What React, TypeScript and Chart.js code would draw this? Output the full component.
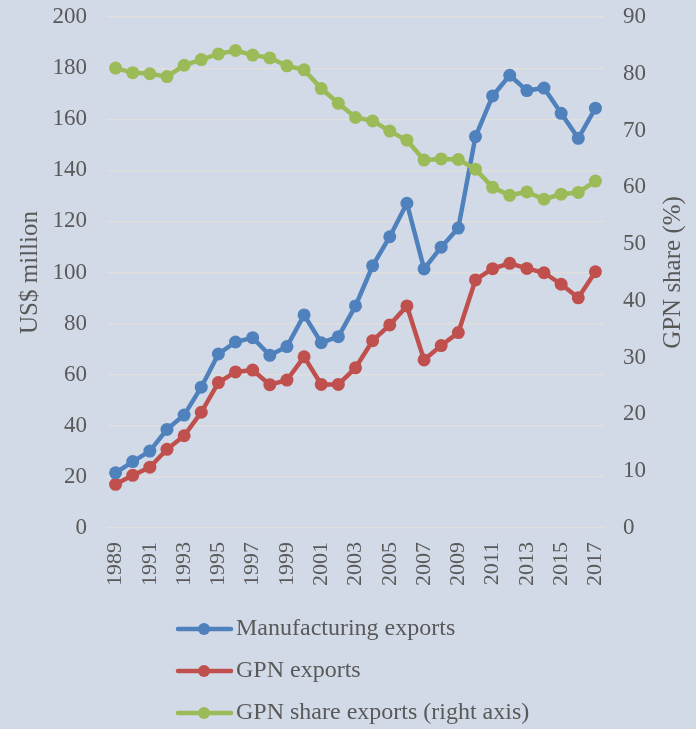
import React, { useEffect, useRef } from "react";
import { Chart, registerables } from "chart.js";

Chart.register(...registerables);

const years = [
  "1989","1990","1991","1992","1993","1994","1995","1996","1997","1998",
  "1999","2000","2001","2002","2003","2004","2005","2006","2007","2008",
  "2009","2010","2011","2012","2013","2014","2015","2016","2017",
];
const manufacturingExports = [
  21.6, 26.0, 30.1, 38.6, 44.2, 55.1, 68.1, 72.8, 74.5, 67.6,
  71.0, 83.4, 72.5, 74.9, 86.9, 102.6, 114.0, 127.1, 101.4, 109.9,
  117.4, 153.2, 169.1, 177.2, 171.2, 172.2, 162.3, 152.5, 164.3,
];
const gpnExports = [
  17.1, 20.6, 23.8, 30.8, 36.1, 45.3, 56.9, 61.1, 61.8, 56.1,
  57.9, 67.0, 56.2, 56.2, 62.7, 73.3, 79.5, 86.9, 65.8, 71.4,
  76.5, 97.1, 101.5, 103.6, 101.6, 99.9, 95.4, 90.1, 100.3,
];
const gpnShare = [
  81.0, 80.2, 80.0, 79.5, 81.5, 82.5, 83.5, 84.1, 83.3, 82.8,
  81.4, 80.7, 77.4, 74.8, 72.3, 71.7, 69.9, 68.3, 64.8, 65.0,
  64.9, 63.2, 60.0, 58.6, 59.2, 57.9, 58.8, 59.1, 61.1,
];
const seriesNames = [
  "Manufacturing exports",
  "GPN exports",
  "GPN share exports (right axis)",
];
const leftTitle = "US$ million";
const rightTitle = "GPN share (%)";

const BLUE = "#4F81BD";
const RED = "#C0504D";
const GREEN = "#9BBB59";
const BG = "#D3DAE7";
const GRID = "#E1E0DA";
const TEXT = "#595959";
const FONT = "'Liberation Serif', 'Times New Roman', serif";

export default function App() {
  const ref = useRef<HTMLCanvasElement | null>(null);

  useEffect(() => {
    document.body.style.margin = "0";
    const canvas = ref.current;
    if (!canvas) return;

    const bgPlugin = {
      id: "bg",
      beforeDraw(chart: any) {
        const { ctx, width, height } = chart;
        ctx.save();
        ctx.fillStyle = BG;
        ctx.fillRect(0, 0, width, height);
        ctx.restore();
      },
    };

    const extrasPlugin = {
      id: "extras",
      afterDraw(chart: any) {
        const { ctx, chartArea } = chart;
        ctx.save();
        // right axis title, reading bottom to top
        ctx.translate(673, (chartArea.top + chartArea.bottom) / 2);
        ctx.rotate(-Math.PI / 2);
        ctx.fillStyle = TEXT;
        ctx.font = `25px ${FONT}`;
        ctx.textAlign = "center";
        ctx.textBaseline = "middle";
        ctx.fillText(rightTitle, 0, 0);
        ctx.restore();

        // legend, vertical list
        const colors = [BLUE, RED, GREEN];
        const rows = [629, 671, 713];
        ctx.save();
        for (let i = 0; i < 3; i++) {
          const y = rows[i];
          ctx.strokeStyle = colors[i];
          ctx.lineWidth = 4.5;
          ctx.lineCap = "round";
          ctx.beginPath();
          ctx.moveTo(178, y);
          ctx.lineTo(231, y);
          ctx.stroke();
          ctx.fillStyle = colors[i];
          ctx.beginPath();
          ctx.arc(204, y, 6, 0, Math.PI * 2);
          ctx.fill();
          ctx.fillStyle = TEXT;
          ctx.font = `24px ${FONT}`;
          ctx.textAlign = "left";
          ctx.textBaseline = "middle";
          ctx.fillText(seriesNames[i], 236, y);
        }
        ctx.restore();
      },
    };

    const common = {
      borderWidth: 4.5,
      pointRadius: 6.5,
      pointHoverRadius: 6.5,
      pointBorderWidth: 0,
      tension: 0,
      fill: false,
    };

    const chart = new Chart(canvas, {
      type: "line",
      data: {
        labels: years,
        datasets: [
          {
            ...common,
            label: seriesNames[0],
            data: manufacturingExports,
            borderColor: BLUE,
            backgroundColor: BLUE,
            pointBackgroundColor: BLUE,
            yAxisID: "y",
            order: 1,
          },
          {
            ...common,
            label: seriesNames[1],
            data: gpnExports,
            borderColor: RED,
            backgroundColor: RED,
            pointBackgroundColor: RED,
            yAxisID: "y",
            order: 2,
          },
          {
            ...common,
            label: seriesNames[2],
            data: gpnShare,
            borderColor: GREEN,
            backgroundColor: GREEN,
            pointBackgroundColor: GREEN,
            yAxisID: "y1",
            order: 0,
          },
        ],
      },
      options: {
        responsive: false,
        animation: false,
        layout: { padding: { top: 17, bottom: 130, left: 0, right: 0 } },
        plugins: {
          legend: { display: false },
          tooltip: { enabled: false },
          title: { display: false },
        },
        scales: {
          x: {
            type: "category",
            offset: true,
            grid: { display: false, drawTicks: false },
            border: { display: false },
            ticks: {
              autoSkip: false,
              maxRotation: 90,
              minRotation: 90,
              padding: 14,
              color: TEXT,
              font: { family: FONT, size: 22 },
              callback: function (_v: any, i: number) {
                return i % 2 === 0 ? years[i] : "";
              },
            },
            afterFit(scale: any) {
              scale.height = 71;
              scale.paddingLeft = 0;
              scale.paddingRight = 0;
            },
          },
          y: {
            position: "left",
            min: 0,
            max: 200,
            ticks: {
              stepSize: 20,
              padding: 20,
              color: TEXT,
              font: { family: FONT, size: 23 },
            },
            grid: { color: GRID, lineWidth: 1.2, drawTicks: false },
            border: { display: false },
            title: {
              display: true,
              text: leftTitle,
              color: TEXT,
              font: { family: FONT, size: 25 },
              padding: { top: 15, bottom: 0 },
            },
            afterFit(scale: any) {
              scale.width = 107;
              scale.paddingTop = 0;
              scale.paddingBottom = 0;
            },
          },
          y1: {
            position: "right",
            min: 0,
            max: 90,
            ticks: {
              stepSize: 10,
              padding: 19,
              color: TEXT,
              font: { family: FONT, size: 23 },
            },
            grid: { drawOnChartArea: false, drawTicks: false },
            border: { display: false },
            afterFit(scale: any) {
              scale.width = 92;
              scale.paddingTop = 0;
              scale.paddingBottom = 0;
            },
          },
        },
      },
      plugins: [bgPlugin, extrasPlugin],
    } as any);

    return () => chart.destroy();
  }, []);

  return (
    <div style={{ width: 696, height: 729 }}>
      <canvas ref={ref} width={696} height={729} style={{ display: "block" }} />
    </div>
  );
}
